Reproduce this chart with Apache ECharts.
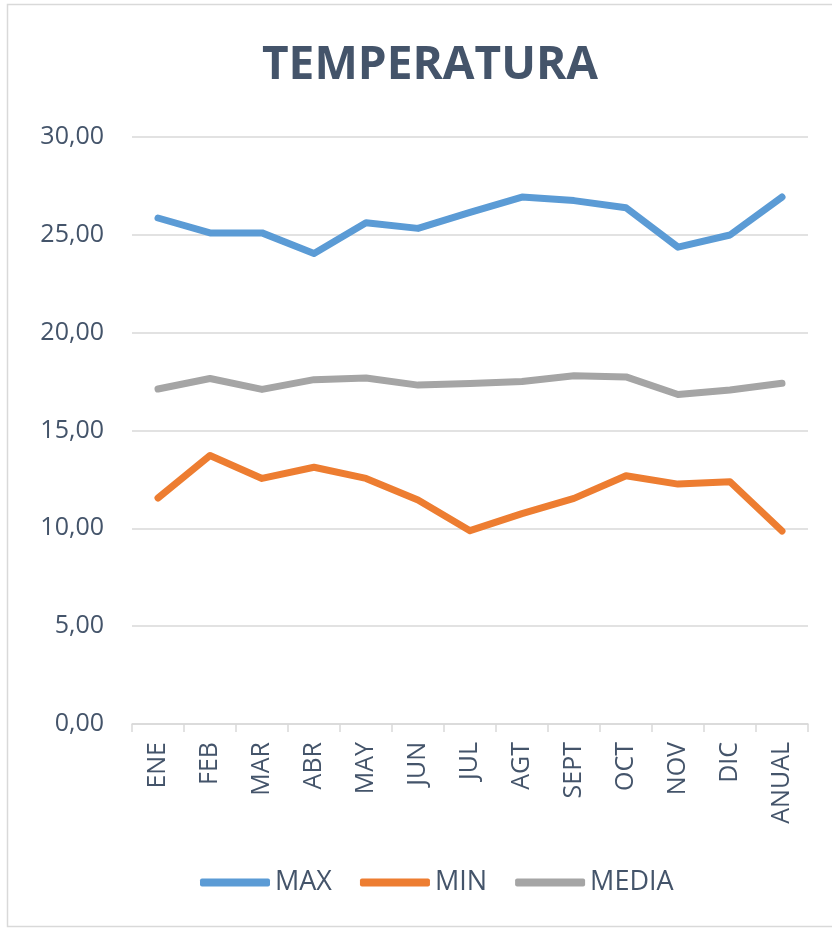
<!DOCTYPE html>
<html>
<head>
<meta charset="utf-8">
<script src="https://cdn.jsdelivr.net/npm/echarts@6/dist/echarts.min.js"></script>
<style>
  html, body { margin: 0; padding: 0; background: #fff; }
  #chart { width: 832px; height: 928px; }
</style>
</head>
<body>
<div id="chart"></div>
<script>
// Monthly temperatures (°C)
const categories = ['ENE', 'FEB', 'MAR', 'ABR', 'MAY', 'JUN', 'JUL', 'AGT', 'SEPT', 'OCT', 'NOV', 'DIC', 'ANUAL'];
const maxValues   = [25.86, 25.1, 25.1, 24.05, 25.62, 25.33, 26.15, 26.93, 26.75, 26.38, 24.37, 24.99, 26.93];
const minValues   = [11.55, 13.72, 12.55, 13.12, 12.55, 11.45, 9.88, 10.75, 11.53, 12.69, 12.26, 12.38, 9.86];
const mediaValues = [17.12, 17.66, 17.1, 17.6, 17.68, 17.32, 17.4, 17.5, 17.8, 17.74, 16.84, 17.07, 17.41];
const yTicks = [0, 5, 10, 15, 20, 25, 30];

const textColor = '#44546A';
const gridColor = '#D9D9D9';

const chart = echarts.init(document.getElementById('chart'), null, { renderer: 'canvas' });

const lineSeries = (name, data, color) => ({
  name,
  type: 'line',
  data,
  symbol: 'none',
  smooth: false,
  lineStyle: { width: 7, color, cap: 'round', join: 'round' },
  itemStyle: { color }
});

chart.setOption({
  animation: false,
  backgroundColor: '#ffffff',
  graphic: [{
    type: 'rect',
    shape: { x: 7.5, y: 4.5, width: 840, height: 922 },
    style: { fill: 'none', stroke: gridColor, lineWidth: 1.5 },
    silent: true
  }],
  title: {
    text: 'TEMPERATURA',
    left: 425,
    top: 38,
    textAlign: 'center',
    textStyle: {
      fontFamily: 'Open Sans',
      fontWeight: 'bold',
      fontSize: 46,
      color: textColor
    }
  },
  legend: {
    top: 864,
    left: 195,
    itemWidth: 70,
    itemHeight: 8,
    itemGap: 28,
    icon: 'roundRect',
    textStyle: {
      fontFamily: 'Open Sans',
      fontSize: 27,
      color: textColor
    },
    data: ['MAX', 'MIN', 'MEDIA']
  },
  grid: {
    left: 132,
    right: 24,
    top: 137,
    bottom: 204,
    containLabel: false
  },
  xAxis: {
    type: 'category',
    data: categories,
    boundaryGap: true,
    axisLine: { show: true, lineStyle: { color: gridColor, width: 1.5 } },
    axisTick: { show: true, alignWithLabel: false, length: 8, lineStyle: { color: gridColor, width: 1.5 } },
    axisLabel: {
      rotate: 90,
      margin: 18,
      fontFamily: 'Open Sans',
      fontSize: 25,
      color: textColor
    }
  },
  yAxis: {
    type: 'value',
    min: yTicks[0],
    max: yTicks[yTicks.length - 1],
    interval: yTicks[1] - yTicks[0],
    axisLine: { show: false },
    axisTick: { show: false },
    splitLine: { lineStyle: { color: gridColor, width: 1.5 } },
    axisLabel: {
      margin: 28,
      fontFamily: 'Open Sans',
      fontSize: 25,
      color: textColor,
      formatter: v => v.toFixed(2).replace('.', ',')
    }
  },
  series: [
    lineSeries('MAX', maxValues, '#5B9BD5'),
    lineSeries('MIN', minValues, '#ED7D31'),
    lineSeries('MEDIA', mediaValues, '#A5A5A5')
  ]
});
</script>
</body>
</html>
